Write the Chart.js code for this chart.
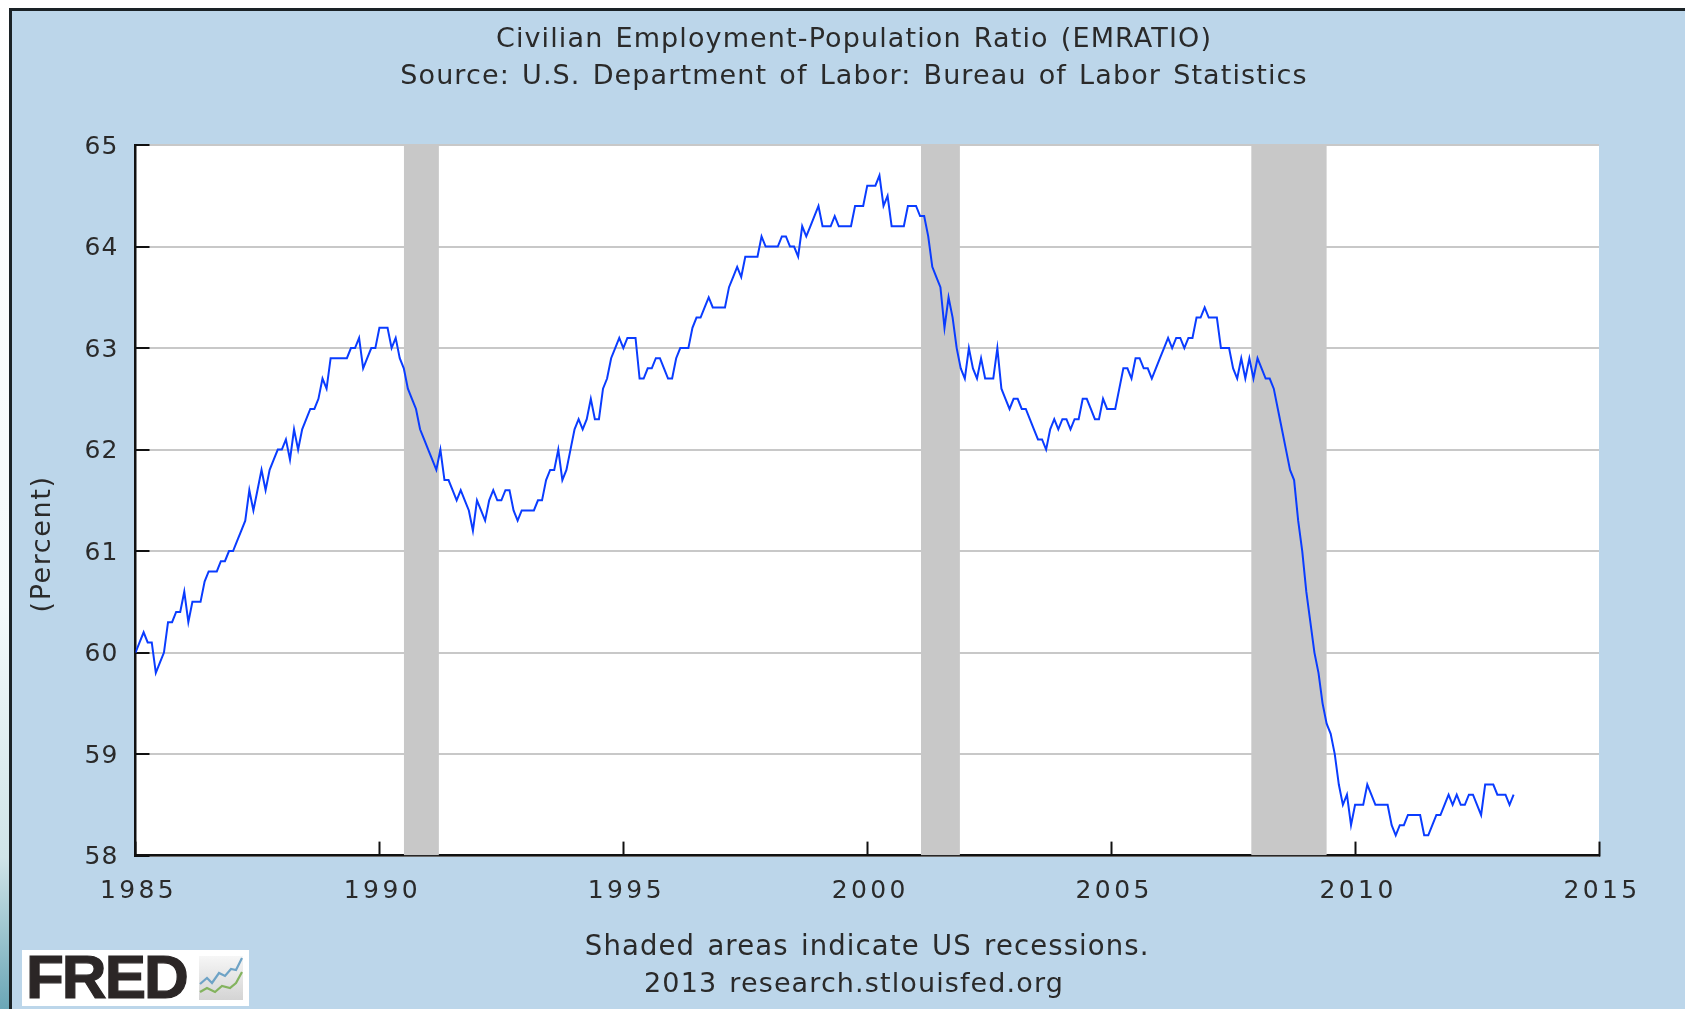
<!DOCTYPE html>
<html><head><meta charset="utf-8">
<script src="https://cdn.jsdelivr.net/npm/chart.js@4"></script>
<style>
html,body{margin:0;padding:0;width:1685px;height:1009px;overflow:hidden;background:#fff}
#strip{position:absolute;left:0;top:0;width:12px;height:1009px;background:linear-gradient(#fff 0,#f4fafb 60%,#cfe4e8 85%,#6aa6b6 100%)}
#panel{position:absolute;left:9px;top:8px;width:1676px;height:1001px;box-sizing:border-box;border-top:3px solid #1a2226;border-left:3px solid #1a2226;background:#bcd6ea}
canvas{position:absolute;left:23px;top:0}
#logo{position:absolute;left:22px;top:950px;width:227px;height:56px;background:#fff}
#logo span{position:absolute;left:4px;top:-8px;font:bold 62px/70px "Liberation Sans",sans-serif;color:#2b2626;letter-spacing:-2px;-webkit-text-stroke:1.2px #2b2626}
#logo svg{position:absolute;left:177px;top:6px}
</style></head><body>
<div id="strip"></div><div id="panel"></div>
<canvas id="c" width="1662" height="1009"></canvas>
<div id="logo"><span>FRED</span>
<svg width="46" height="46" viewBox="0 0 46 46">
<defs><linearGradient id="g" x1="0" y1="0" x2="0" y2="1"><stop offset="0" stop-color="#f6f6f6"/><stop offset="1" stop-color="#d4d4d4"/></linearGradient></defs>
<rect x="0" y="0" width="44" height="44" fill="url(#g)"/>
<polyline points="1,28 8,22 13,27 20,17 26,20 32,13 37,14 43,2" fill="none" stroke="#6ea3c6" stroke-width="2.2"/>
<polyline points="1,36 8,32 16,36 23,30 31,32 37,27 43,16" fill="none" stroke="#83b35e" stroke-width="2.2"/>
</svg></div>
<script>
const startYear = 1985;
const emratio = [
60.0,60.1,60.2,60.1,60.1,59.8,59.9,60.0,60.3,60.3,60.4,60.4,
60.6,60.3,60.5,60.5,60.5,60.7,60.8,60.8,60.8,60.9,60.9,61.0,
61.0,61.1,61.2,61.3,61.6,61.4,61.6,61.8,61.6,61.8,61.9,62.0,
62.0,62.1,61.9,62.2,62.0,62.2,62.3,62.4,62.4,62.5,62.7,62.6,
62.9,62.9,62.9,62.9,62.9,63.0,63.0,63.1,62.8,62.9,63.0,63.0,
63.2,63.2,63.2,63.0,63.1,62.9,62.8,62.6,62.5,62.4,62.2,62.1,
62.0,61.9,61.8,62.0,61.7,61.7,61.6,61.5,61.6,61.5,61.4,61.2,
61.5,61.4,61.3,61.5,61.6,61.5,61.5,61.6,61.6,61.4,61.3,61.4,
61.4,61.4,61.4,61.5,61.5,61.7,61.8,61.8,62.0,61.7,61.8,62.0,
62.2,62.3,62.2,62.3,62.5,62.3,62.3,62.6,62.7,62.9,63.0,63.1,
63.0,63.1,63.1,63.1,62.7,62.7,62.8,62.8,62.9,62.9,62.8,62.7,
62.7,62.9,63.0,63.0,63.0,63.2,63.3,63.3,63.4,63.5,63.4,63.4,
63.4,63.4,63.6,63.7,63.8,63.7,63.9,63.9,63.9,63.9,64.1,64.0,
64.0,64.0,64.0,64.1,64.1,64.0,64.0,63.9,64.2,64.1,64.2,64.3,
64.4,64.2,64.2,64.2,64.3,64.2,64.2,64.2,64.2,64.4,64.4,64.4,
64.6,64.6,64.6,64.7,64.4,64.5,64.2,64.2,64.2,64.2,64.4,64.4,
64.4,64.3,64.3,64.1,63.8,63.7,63.6,63.2,63.5,63.3,63.0,62.8,
62.7,63.0,62.8,62.7,62.9,62.7,62.7,62.7,63.0,62.6,62.5,62.4,
62.5,62.5,62.4,62.4,62.3,62.2,62.1,62.1,62.0,62.2,62.3,62.2,
62.3,62.3,62.2,62.3,62.3,62.5,62.5,62.4,62.3,62.3,62.5,62.4,
62.4,62.4,62.6,62.8,62.8,62.7,62.9,62.9,62.8,62.8,62.7,62.8,
62.9,63.0,63.1,63.0,63.1,63.1,63.0,63.1,63.1,63.3,63.3,63.4,
63.3,63.3,63.3,63.0,63.0,63.0,62.8,62.7,62.9,62.7,62.9,62.7,
62.9,62.8,62.7,62.7,62.6,62.4,62.2,62.0,61.8,61.7,61.3,61.0,
60.6,60.3,60.0,59.8,59.5,59.3,59.2,59.0,58.7,58.5,58.6,58.3,
58.5,58.5,58.5,58.7,58.6,58.5,58.5,58.5,58.5,58.3,58.2,58.3,
58.3,58.4,58.4,58.4,58.4,58.2,58.2,58.3,58.4,58.4,58.5,58.6,
58.5,58.6,58.5,58.5,58.6,58.6,58.5,58.4,58.7,58.7,58.7,58.6,
58.6,58.6,58.5,58.6
];
const recessionStarts = [1990.5, 2001.1, 2007.87];
const recessionEnds   = [1991.22, 2001.9, 2009.42];
const yearTicks = [1985,1990,1995,2000,2005,2010,2015];
const percentTicks = [58,59,60,61,62,63,64,65];
const titleLines = ['Civilian Employment-Population Ratio (EMRATIO)','Source: U.S. Department of Labor: Bureau of Labor Statistics'];
const footerLine1 = 'Shaded areas indicate US recessions.';
const footerLine2 = '2013 research.stlouisfed.org';
const yAxisLabel = '(Percent)';

const TXT = '#2a2a2a', GREY = '#c8c8c8', FONT = '"DejaVu Sans"';
const series = emratio.map((v,i)=>({x:startYear+i/12,y:v}));
const recessionSets = recessionStarts.map((s,i)=>({
  data:[{x:s,y:65},{x:recessionEnds[i],y:65}],
  borderWidth:0,pointRadius:0,fill:'start',backgroundColor:GREY,order:5
}));
const spacing = {
  id:'spacing',
  beforeDraw(c){
    const a=c.chartArea,x=c.ctx;
    x.fillStyle='#fff';x.fillRect(a.left,a.top,a.right-a.left,a.bottom-a.top);
    x.letterSpacing='1.12px';x.wordSpacing='2.4px';
  },
  afterDatasetsDraw(c){ c.ctx.letterSpacing='3.4px'; },
  afterDraw(c){
    const x=c.ctx;x.save();x.letterSpacing='1.6px';
    x.fillStyle=TXT;x.font='27px '+FONT;x.textAlign='center';x.textBaseline='middle';
    x.translate(20,c.scales.y.getPixelForValue(61.07));x.rotate(-Math.PI/2);
    x.fillText(yAxisLabel,0,0);x.restore();
  }
};
new Chart(document.getElementById('c'),{
  type:'line',
  data:{datasets:[
    {data:series,borderColor:'#0a3cff',borderWidth:2,pointRadius:0,tension:0,fill:false,order:1},
    ...recessionSets
  ]},
  plugins:[spacing],
  options:{
    responsive:false,animation:false,
    layout:{padding:0},
    plugins:{
      legend:{display:false},tooltip:{enabled:false},
      title:{display:true,text:titleLines,color:TXT,font:{family:FONT,size:27,weight:'normal',lineHeight:1.39},padding:{top:21,bottom:49}},
      subtitle:{display:true,position:'bottom',text:footerLine2,color:TXT,font:{family:FONT,size:27,weight:'normal',lineHeight:1.2},padding:{top:2,bottom:8}}
    },
    scales:{
      x:{type:'linear',min:1985,max:2015,
        afterFit(s){s.height=111;},
        afterBuildTicks(s){s.ticks=yearTicks.map(v=>({value:v}));},
        grid:{drawOnChartArea:false,drawTicks:true,tickLength:-14,tickColor:'#111',tickWidth:2},
        border:{color:'#111',width:2.5},
        ticks:{z:1,color:TXT,font:{family:FONT,size:25},padding:35,labelOffset:3,maxRotation:0,autoSkip:false,callback:v=>String(v)},
        title:{display:true,text:footerLine1,color:TXT,font:{family:FONT,size:27.5,weight:'normal'},padding:{top:0,bottom:2}}
      },
      y:{min:58,max:65,
        afterFit(s){s.width=112.5;},
        afterBuildTicks(s){s.ticks=percentTicks.map(v=>({value:v}));},
        grid:{color:GREY,lineWidth:2,drawTicks:true,tickLength:-14,tickColor:'#111',tickWidth:2},
        border:{color:'#111',width:2.5},
        ticks:{color:TXT,font:{family:FONT,size:25},padding:31,labelOffset:2,callback:v=>String(v)}
      },
      rightMargin:{position:'right',min:58,max:65,
        afterFit(s){s.width=86;},
        grid:{display:false},border:{display:false},
        ticks:{display:false}
      }
    }
  }
});
</script>
</body></html>
